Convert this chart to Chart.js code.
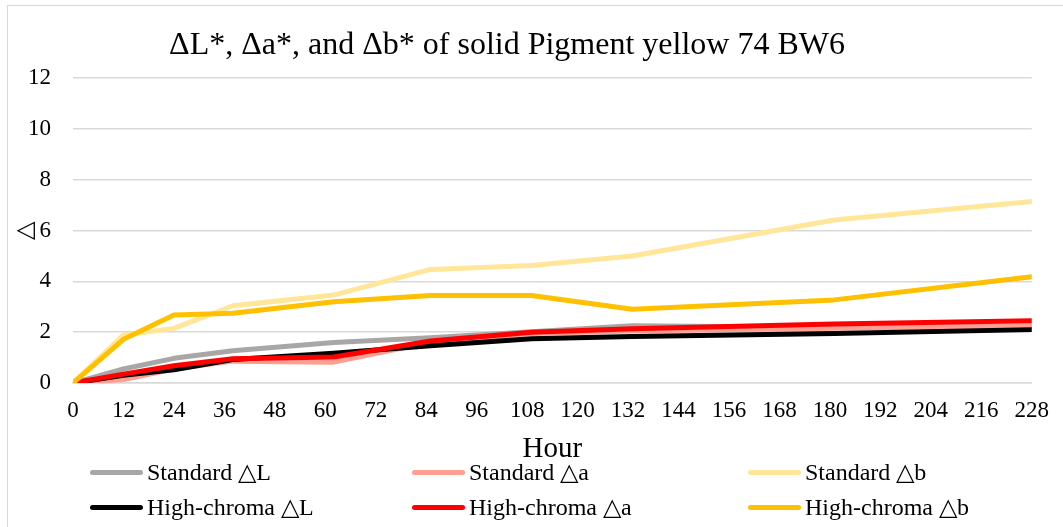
<!DOCTYPE html>
<html>
<head>
<meta charset="utf-8">
<script src="https://cdn.jsdelivr.net/npm/chart.js@4.4.1/dist/chart.umd.min.js"></script>
<style>
  html, body { margin: 0; padding: 0; background: #fff; }
  #wrap { position: relative; width: 1063px; height: 527px; overflow: hidden; }
  #frame { position: absolute; left: 7px; top: 5px; width: 1100px; height: 600px;
           border-left: 1px solid #d9d9d9; border-top: 1px solid #d9d9d9; }
  #chart { position: absolute; left: 0; top: 0; }
  #legend { position: absolute; left: 0; top: 0; width: 1063px; height: 527px; pointer-events: none;
            font-family: "Liberation Serif", serif; font-size: 24px; color: #000; }
  .item { position: absolute; display: flex; align-items: center; height: 28px; white-space: nowrap; }
  .swatch { width: 53px; height: 5px; border-radius: 3px; margin-right: 4px; }
</style>
</head>
<body>
<div id="wrap">
  <div id="frame"></div>
  <canvas id="chart" width="1063" height="527"></canvas>
  <div id="legend"></div>
</div>
<script>
const chartTitle = 'ΔL*, Δa*, and Δb* of solid Pigment yellow 74 BW6';
const hours = [0, 12, 24, 38, 62, 85, 109, 133, 181, 228];
const seriesNames = ['Standard △L', 'Standard △a', 'Standard △b',
                     'High-chroma △L', 'High-chroma △a', 'High-chroma △b'];
const standardL = [0, 0.55, 0.97, 1.27, 1.59, 1.78, 2.02, 2.25, 2.18, 2.22];
const standardA = [0, 0.14, 0.55, 0.86, 0.82, 1.60, 1.95, 2.05, 2.15, 2.25];
const standardB = [0, 1.89, 2.15, 3.04, 3.46, 4.47, 4.62, 5.00, 6.41, 7.14];
const highL = [0, 0.30, 0.52, 0.92, 1.17, 1.47, 1.74, 1.83, 1.95, 2.10];
const highA = [0, 0.35, 0.68, 0.95, 1.02, 1.65, 2.00, 2.13, 2.32, 2.45];
const highB = [0, 1.72, 2.68, 2.74, 3.20, 3.44, 3.44, 2.90, 3.27, 4.18];
const colors = ['#a9a6a6', '#ff9e91', '#ffe699', '#000000', '#ff0000', '#ffc000'];

const allSeries = [standardL, standardA, standardB, highL, highA, highB];
const serif = "'Liberation Serif', serif";
Chart.defaults.font.family = serif;

const datasets = allSeries.map((vals, i) => ({
  label: seriesNames[i],
  data: vals.map((v, j) => ({ x: hours[j], y: v })),
  borderColor: colors[i],
  backgroundColor: colors[i],
  borderWidth: 5,
  borderCapStyle: 'round',
  borderJoinStyle: 'round',
  pointRadius: 0,
  tension: 0,
  fill: false,
  order: allSeries.length - i   // later series drawn on top, like the original
}));

const titlePlugin = {
  id: 'topTitle',
  afterDraw(chart) {
    const ctx = chart.ctx;
    ctx.save();
    ctx.font = "32px 'Liberation Serif', serif";
    ctx.fillStyle = '#000';
    ctx.textAlign = 'center';
    ctx.textBaseline = 'middle';
    ctx.fillText(chartTitle, chart.width * 0.477, 46);
    ctx.restore();
  }
};

const ctx = document.getElementById('chart').getContext('2d');
const chart = new Chart(ctx, {
  type: 'line',
  data: { datasets },
  plugins: [titlePlugin],
  options: {
    responsive: false,
    animation: false,
    layout: { padding: { left: 20, right: 29, top: 78, bottom: 0 } },
    plugins: {
      legend: { display: false },
      tooltip: { enabled: false },
      title: { display: false }
    },
    scales: {
      x: {
        type: 'linear',
        min: 0,
        max: 228,
        afterFit(scale) { scale.height = 144; },
        ticks: { stepSize: 12, color: '#000', padding: 14, maxRotation: 0, autoSkip: false,
                 font: { family: serif, size: 23 } },
        grid: { display: false, drawTicks: false },
        border: { display: true, color: '#d9d9d9', width: 1.5 },
        title: { display: true, text: 'Hour', color: '#000', padding: { top: 0, bottom: 60 },
                 font: { family: serif, size: 29 } }
      },
      y: {
        min: 0,
        max: 12,
        afterFit(scale) { scale.width = 53; },
        ticks: { stepSize: 2, color: '#000', padding: 22, font: { family: serif, size: 23 } },
        grid: { color: '#d9d9d9', lineWidth: 1.5, drawTicks: false },
        border: { display: false },
        title: { display: true, text: '△', color: '#000', padding: 0,
                 font: { family: serif, size: 24, lineHeight: 0.5 } }
      }
    }
  }
});

// make sure the serif face is used once it is ready
if (document.fonts) {
  document.fonts.load("32px 'Liberation Serif'").then(() => chart.update());
}

// legend in two rows of three columns, built from the datasets
const legendCols = [90, 412, 748];
const legendRows = [472, 507];
const legendEl = document.getElementById('legend');
chart.data.datasets.forEach((ds, i) => {
  const item = document.createElement('div');
  item.className = 'item';
  item.style.left = legendCols[i % 3] + 'px';
  item.style.top = (legendRows[Math.floor(i / 3)] - 14) + 'px';
  const sw = document.createElement('span');
  sw.className = 'swatch';
  sw.style.background = ds.borderColor;
  const tx = document.createElement('span');
  tx.textContent = ds.label;
  item.appendChild(sw);
  item.appendChild(tx);
  legendEl.appendChild(item);
});
</script>
</body>
</html>
